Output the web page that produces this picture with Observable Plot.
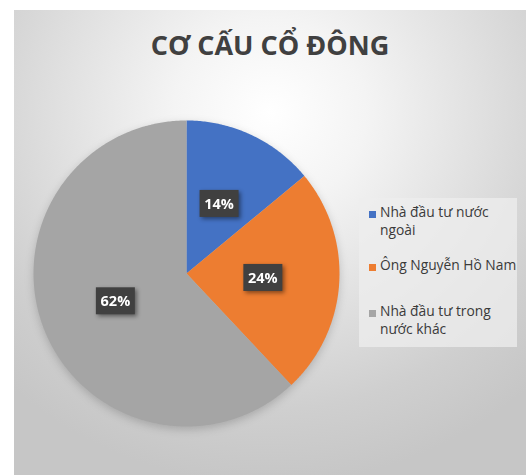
<!DOCTYPE html>
<html>
<head>
<meta charset="utf-8">
<script src="https://cdn.jsdelivr.net/npm/d3@7"></script>
<script src="https://cdn.jsdelivr.net/npm/@observablehq/plot@0.6"></script>
<style>
  html, body { margin: 0; padding: 0; background: #ffffff; width: 526px; height: 476px; overflow: hidden; }
  #card {
    position: absolute; left: 14px; top: 10px; width: 512px; height: 465px;
    background: radial-gradient(ellipse 75% 80% at 50% 22%, #ffffff 0%, #f4f4f4 25%, #e0e0e0 55%, #cfcfcf 80%, #c6c6c6 100%);
    overflow: hidden;
  }
  #title {
    position: absolute; left: 0; top: 16px; width: 512px; text-align: center; line-height: 37px;
    font-family: "Open Sans", sans-serif; font-weight: 700; font-size: 27px; color: #404040;
  }
  #chart { position: absolute; left: 19px; top: 110px; filter: drop-shadow(0px 3px 4px rgba(0,0,0,0.18)); }
  #legend {
    position: absolute; left: 345px; top: 188px; width: 158px; height: 149px;
    background: rgba(238,238,238,0.75);
    font-family: "Open Sans", sans-serif; font-size: 13.8px; color: #3a3a3a; line-height: 18px;
  }
  .item { position: absolute; left: 21px; white-space: nowrap; }
  .sw { position: absolute; left: -11px; top: 8px; width: 7px; height: 7px; }
</style>
</head>
<body>
<div id="card">
  <div id="title"></div>
  <div id="chart"></div>
  <div id="legend"></div>
</div>
<script>
const title = "CƠ CẤU CỔ ĐÔNG";
const categories = ["Nhà đầu tư nước ngoài", "Ông Nguyễn Hồ Nam", "Nhà đầu tư trong nước khác"];
const legendLines = [["Nhà đầu tư nước", "ngoài"], ["Ông Nguyễn Hồ Nam"], ["Nhà đầu tư trong", "nước khác"]];
const values = [14, 24, 62];
const colors = ["#4472C4", "#ED7D31", "#A5A5A5"];

document.getElementById("title").textContent = title;

const total = d3.sum(values);
const arcs = d3.pie().sort(null).value(d => d)(values);

// polygon points for each slice (clockwise from 12 o'clock)
const pts = [];
arcs.forEach((a, i) => {
  pts.push({cat: categories[i], x: 0, y: 0});
  const n = Math.max(2, Math.ceil((a.endAngle - a.startAngle) / 0.01));
  for (let k = 0; k <= n; k++) {
    const t = a.startAngle + (a.endAngle - a.startAngle) * k / n;
    pts.push({cat: categories[i], x: Math.sin(t), y: Math.cos(t)});
  }
  pts.push({cat: categories[i], x: 0, y: 0});
});
const labels = arcs.map((a, i) => {
  const m = (a.startAngle + a.endAngle) / 2;
  return {cat: categories[i], x: 0.5 * Math.sin(m), y: 0.5 * Math.cos(m), text: Math.round(values[i] / total * 100) + "%"};
});

const size = 306;
const plot = Plot.plot({
  width: size, height: size,
  margin: 0,
  x: {domain: [-1, 1], axis: null},
  y: {domain: [-1, 1], axis: null},
  color: {domain: categories, range: colors},
  style: {background: "transparent", overflow: "visible"},
  marks: [
    Plot.line(pts, {x: "x", y: "y", z: "cat", fill: "cat", stroke: "none", curve: "linear"}),
    Plot.text(labels, {x: "x", y: "y", text: "text", fill: "white", fontWeight: "bold", fontSize: 14.5,
      fontFamily: "Open Sans, sans-serif", className: "plabel"})
  ]
});
document.getElementById("chart").appendChild(plot);

// dark boxes behind labels
const svgNS = "http://www.w3.org/2000/svg";
plot.querySelectorAll(".plabel text").forEach(t => {
  const b = t.getBBox();
  const w = 39, h = 27;
  const cx = b.x + b.width / 2, cy = b.y + b.height / 2;
  const r = document.createElementNS(svgNS, "rect");
  r.setAttribute("x", cx - w / 2); r.setAttribute("y", cy - h / 2);
  r.setAttribute("width", w); r.setAttribute("height", h);
  r.setAttribute("fill", "#404040");
  r.setAttribute("style", "filter: drop-shadow(2px 2px 2px rgba(0,0,0,0.45))");
  const tr = t.getAttribute("transform");
  if (tr) r.setAttribute("transform", tr);
  t.parentNode.insertBefore(r, t);
});

// legend
const legend = document.getElementById("legend");
const tops = [5, 58, 104];
legendLines.forEach((lines, i) => {
  const div = document.createElement("div");
  div.className = "item";
  div.style.top = tops[i] + "px";
  const sw = document.createElement("div");
  sw.className = "sw";
  sw.style.background = colors[i];
  div.appendChild(sw);
  lines.forEach(l => { const s = document.createElement("div"); s.textContent = l; div.appendChild(s); });
  legend.appendChild(div);
});
</script>
</body>
</html>
